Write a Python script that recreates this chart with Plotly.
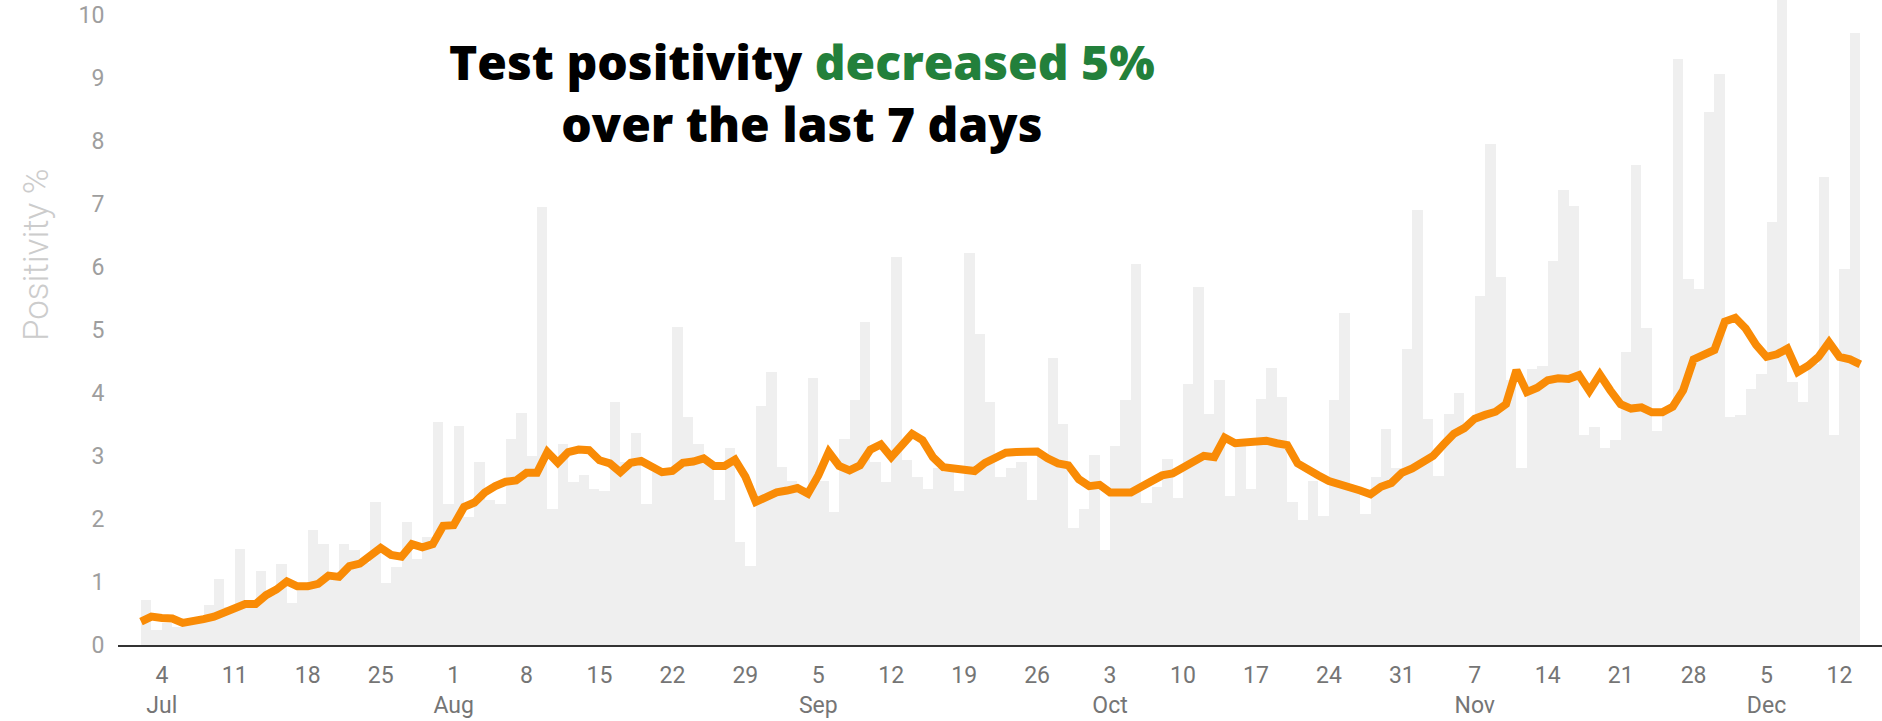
import pandas as pd
import plotly.graph_objects as go

# Daily test positivity (%), one bar per day starting 2020-07-02
daily_positivity = [
    0.72, 0.24, 0.35, 0.28, 0.40, 0.45, 0.64, 1.05, 0.60, 1.53,
    0.70, 1.17, 0.80, 1.29, 0.66, 0.95, 1.83, 1.60, 1.10, 1.60,
    1.50, 1.30, 2.27, 0.98, 1.24, 1.95, 1.37, 1.71, 3.54, 2.24,
    3.48, 2.03, 2.90, 2.30, 2.23, 3.27, 3.68, 3.00, 6.95, 2.15,
    3.19, 2.58, 2.70, 2.47, 2.45, 3.85, 2.90, 3.36, 2.23, 2.75,
    2.70, 5.04, 3.62, 3.19, 2.90, 2.30, 3.13, 1.64, 1.25, 3.79,
    4.33, 2.82, 2.60, 2.50, 4.23, 2.60, 2.11, 3.26, 3.89, 5.13,
    2.90, 2.59, 6.15, 2.93, 2.67, 2.47, 2.80, 2.75, 2.45, 6.22,
    4.94, 3.85, 2.67, 2.80, 2.91, 2.30, 3.00, 4.55, 3.50, 1.86,
    2.16, 3.01, 1.51, 3.16, 3.89, 6.05, 2.25, 2.50, 2.95, 2.33,
    4.14, 5.68, 3.66, 4.20, 2.36, 3.25, 2.48, 3.90, 4.40, 3.93,
    2.27, 1.98, 2.60, 2.04, 3.89, 5.26, 2.45, 2.07, 2.67, 3.42,
    2.80, 4.70, 6.90, 3.59, 2.68, 3.67, 4.00, 3.50, 5.53, 7.95,
    5.83, 4.20, 2.81, 4.38, 4.43, 6.09, 7.22, 6.96, 3.33, 3.45,
    3.13, 3.25, 4.65, 7.62, 5.02, 3.40, 3.72, 9.30, 5.80, 5.65,
    8.45, 9.05, 3.62, 3.65, 4.06, 4.30, 6.71, 10.5, 4.17, 3.86,
    4.45, 7.42, 3.33, 5.97, 9.70,
]

# 7-day average positivity (%), one point per day starting 2020-07-02
avg_positivity = [
    0.37, 0.45, 0.43, 0.42, 0.35, 0.37, 0.41, 0.45, 0.51, 0.57,
    0.65, 0.65, 0.79, 0.88, 1.01, 0.93, 0.93, 0.97, 1.10, 1.08,
    1.25, 1.29, 1.42, 1.54, 1.43, 1.40, 1.60, 1.55, 1.60, 1.89,
    1.90, 2.19, 2.26, 2.42, 2.52, 2.59, 2.61, 2.73, 2.73, 3.06,
    2.89, 3.06, 3.10, 3.09, 2.93, 2.88, 2.74, 2.89, 2.92, 2.83,
    2.74, 2.76, 2.89, 2.91, 2.96, 2.84, 2.84, 2.94, 2.67, 2.27,
    2.36, 2.42, 2.45, 2.49, 2.40, 2.69, 3.06, 2.84, 2.77, 2.85,
    3.10, 3.18, 2.98, 3.19, 3.35, 3.25, 2.98, 2.82, 2.80, 2.77,
    2.76, 2.89, 2.98, 3.05, 3.06, 3.08, 3.07, 2.96, 2.88, 2.85,
    2.63, 2.52, 2.54, 2.42, 2.42, 2.42, 2.51, 2.60, 2.69, 2.72,
    2.82, 2.92, 3.00, 2.98, 3.29, 3.20, 3.22, 3.25, 3.24, 3.20,
    3.17, 2.88, 2.80, 2.69, 2.60, 2.56, 2.52, 2.45, 2.39, 2.51,
    2.57, 2.73, 2.80, 2.90, 3.00, 3.18, 3.35, 3.44, 3.59, 3.65,
    3.70, 3.82, 4.36, 4.01, 4.08, 4.20, 4.23, 4.22, 4.28, 4.03,
    4.29, 4.04, 3.82, 3.75, 3.77, 3.69, 3.69, 3.78, 4.04, 4.53,
    4.61, 4.68, 5.13, 5.19, 5.02, 4.76, 4.57, 4.61, 4.70, 4.33,
    4.43, 4.57, 4.80, 4.57, 4.53, 4.45,
]

start_date = "2020-07-02"
bar_dates = pd.date_range(start_date, periods=len(daily_positivity), freq="D")
line_dates = pd.date_range(start_date, periods=len(avg_positivity), freq="D")

tick_dates = [
    "2020-07-04", "2020-07-11", "2020-07-18", "2020-07-25",
    "2020-08-01", "2020-08-08", "2020-08-15", "2020-08-22", "2020-08-29",
    "2020-09-05", "2020-09-12", "2020-09-19", "2020-09-26",
    "2020-10-03", "2020-10-10", "2020-10-17", "2020-10-24", "2020-10-31",
    "2020-11-07", "2020-11-14", "2020-11-21", "2020-11-28",
    "2020-12-05", "2020-12-12",
]
tick_labels = [
    "4<br>Jul", "11", "18", "25",
    "1<br>Aug", "8", "15", "22", "29",
    "5<br>Sep", "12", "19", "26",
    "3<br>Oct", "10", "17", "24", "31",
    "7<br>Nov", "14", "21", "28",
    "5<br>Dec", "12",
]
y_ticks = list(range(0, 11))

fig = go.Figure()
fig.add_trace(go.Bar(
    x=bar_dates, y=daily_positivity,
    xperiod=86400000, xperiodalignment="middle",
    marker=dict(color="#efefef", line=dict(width=0)),
    hoverinfo="skip",
))
fig.add_trace(go.Scatter(
    x=line_dates, y=avg_positivity, mode="lines",
    line=dict(color="#f98b06", width=8),
))

fig.update_layout(
    width=1882, height=721,
    margin=dict(l=118, r=0, t=0, b=76),
    plot_bgcolor="white", paper_bgcolor="white",
    showlegend=False, bargap=0,
    font=dict(family="Roboto, sans-serif"),
    annotations=[
        dict(
            text="Test positivity <span style='color:#23803b'>decreased 5%</span><br>over the last 7 days",
            xref="paper", yref="paper", x=0.3875, y=0.856,
            xanchor="center", yanchor="middle", showarrow=False,
            font=dict(family="Open Sans", size=48, color="#000000", weight=800),
        ),
        dict(
            text="Positivity %", textangle=-90,
            xref="paper", yref="paper", x=-0.0465, y=0.606,
            xanchor="center", yanchor="middle", showarrow=False,
            font=dict(family="Roboto", size=35, color="#cccccc", weight=300),
        ),
    ],
)
fig.update_xaxes(
    type="date",
    range=["2020-06-29 19:00", "2020-12-16 02:00"],
    tickvals=tick_dates, ticktext=tick_labels,
    showgrid=False, zeroline=False,
    showline=True, linecolor="#333333", linewidth=2,
    ticks="outside", ticklen=8, tickcolor="rgba(0,0,0,0)",
    tickfont=dict(family="Roboto", size=23, color="#757575"),
)
fig.update_yaxes(
    range=[0, 10.23],
    tickvals=y_ticks,
    showgrid=False, zeroline=False, showline=False,
    ticks="outside", ticklen=8, tickcolor="rgba(0,0,0,0)",
    tickfont=dict(family="Roboto", size=23, color="#9e9e9e"),
)

fig.write_html(
    "out.html",
    config={"displayModeBar": False},
    post_script="document.body.style.margin='0';document.body.style.overflow='hidden';",
)
